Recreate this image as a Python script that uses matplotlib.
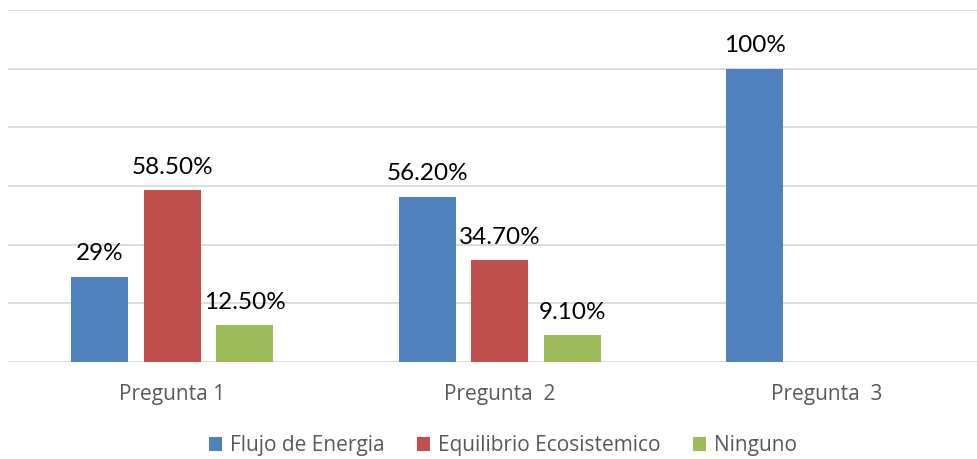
import numpy as np
import matplotlib.pyplot as plt

categories = ["Pregunta 1", "Pregunta  2", "Pregunta  3"]
series_names = ["Flujo de Energia", "Equilibrio Ecosistemico", "Ninguno"]
flujo = [29.0, 56.2, 100.0]
equilibrio = [58.5, 34.7, None]
ninguno = [12.5, 9.1, None]
flujo_labels = ["29%", "56.20%", "100%"]
equilibrio_labels = ["58.50%", "34.70%", None]
ninguno_labels = ["12.50%", "9.10%", None]

colors = ["#4F81BD", "#C0504D", "#9BBB59"]
grey_text = "#595959"

fig = plt.figure(figsize=(9.78, 4.59), dpi=100)
ax = fig.add_axes([8 / 978, (459 - 362) / 459, 970 / 978, 352 / 459])

x = np.arange(len(categories))
width = 0.174
pitch = 0.2214

all_vals = [flujo, equilibrio, ninguno]
all_labels = [flujo_labels, equilibrio_labels, ninguno_labels]
for i, (vals, labs) in enumerate(zip(all_vals, all_labels)):
    xs = [xi + (i - 1) * pitch for xi, v in zip(x, vals) if v is not None]
    hs = [v for v in vals if v is not None]
    ls = [l for l in labs if l is not None]
    ax.bar(xs, hs, width=width, color=colors[i], label=series_names[i], zorder=3)
    for xx, hh, ll in zip(xs, hs, ls):
        ax.annotate(ll, (xx, hh), xytext=(0, 12), textcoords="offset points",
                    ha="center", va="baseline", fontsize=17.5, family="Lato",
                    color="black")

ax.set_xlim(-0.5008, 2.461)
ax.set_ylim(0, 120)
ax.set_yticks(np.arange(0, 121, 20))
ax.yaxis.grid(True, color="#D9D9D9", linewidth=1.3, zorder=0)
ax.tick_params(axis="y", left=False, labelleft=False)
ax.set_xticks(x)
ax.set_xticklabels(categories, fontsize=15, family="Open Sans", color=grey_text)
ax.tick_params(axis="x", length=0, pad=16)
for s in ax.spines.values():
    s.set_visible(False)

fig.legend(loc="center", bbox_to_anchor=(503 / 978, 1 - 446 / 459), ncol=3,
           frameon=False, prop={"family": "Open Sans", "size": 15},
           labelcolor=grey_text, handlelength=0.62, handleheight=0.62,
           handletextpad=0.4, columnspacing=1.55)

fig.savefig("out.png", dpi=100)
